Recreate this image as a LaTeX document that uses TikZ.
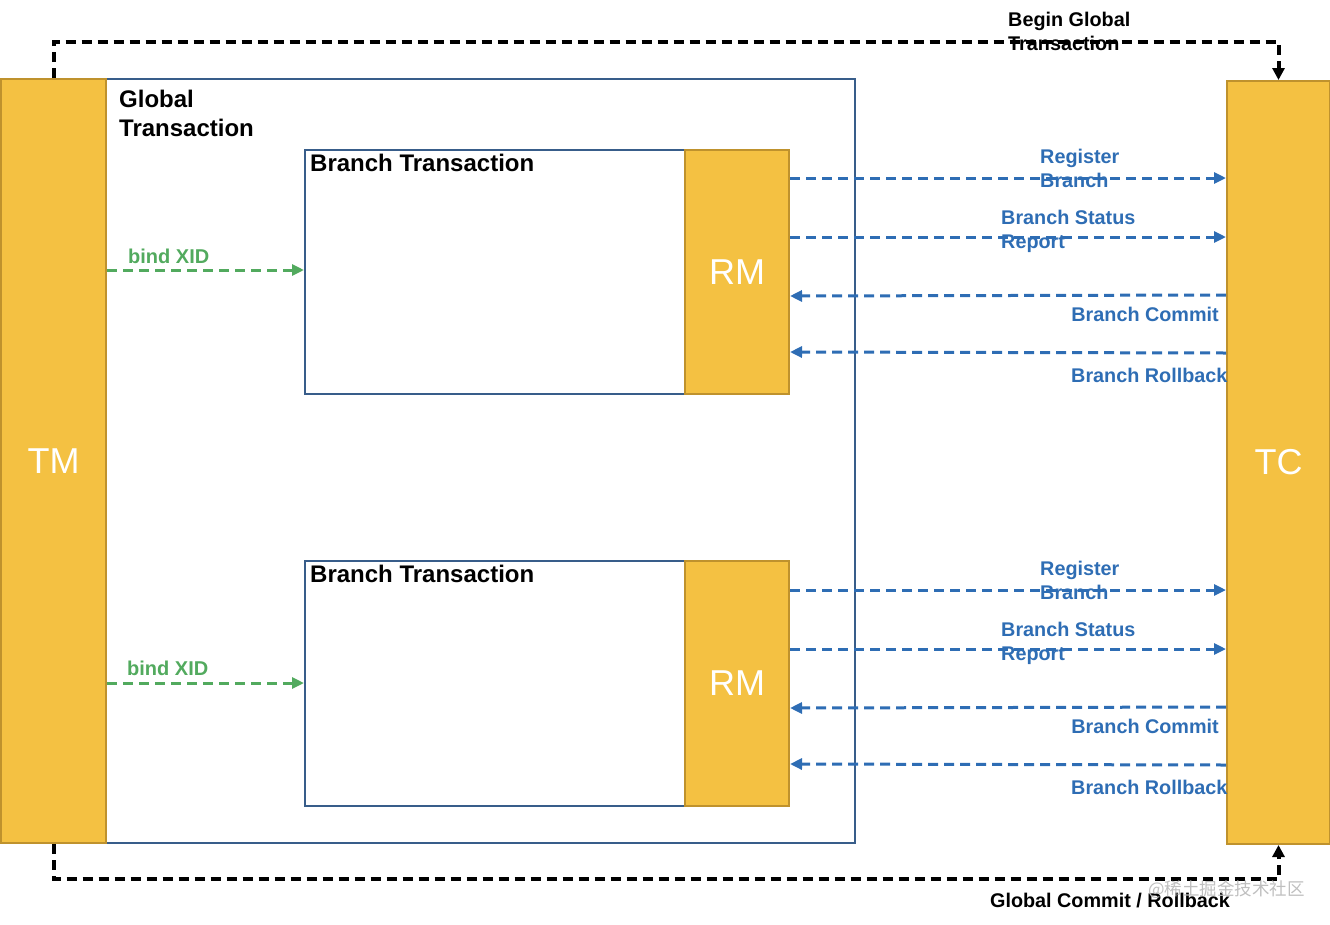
\documentclass[tikz,border=0pt]{standalone}
\usepackage{fontspec}
\setmainfont{Liberation Sans}
\newfontfamily\cjkfont{Noto Sans CJK SC}
\usetikzlibrary{arrows.meta}
\definecolor{orangefill}{RGB}{244,193,66}
\definecolor{orangedraw}{RGB}{191,146,45}
\definecolor{boxblue}{RGB}{56,93,138}
\definecolor{flowblue}{RGB}{46,109,180}
\definecolor{flowgreen}{RGB}{82,170,94}
\tikzset{
  actor/.style={draw=orangedraw, fill=orangefill, line width=2pt, text=white, inner sep=0pt,
    font=\fontsize{36}{40}\selectfont},
  txbox/.style={draw=boxblue, line width=2pt, inner sep=0pt},
  msg/.style={flowblue, line width=3pt, dash pattern=on 10pt off 6pt,
    -{Triangle[length=12pt,width=11pt]}},
  bind/.style={flowgreen, line width=3pt, dash pattern=on 10pt off 6pt,
    -{Triangle[length=12pt,width=11pt]}},
  ctrl/.style={black, line width=4pt, dash pattern=on 10pt off 6pt,
    -{Triangle[length=12pt,width=12pt]}},
  msglabel/.style={text=flowblue, inner sep=0pt, align=left,
    font=\fontsize{19.8}{24}\selectfont\bfseries},
  biglabel/.style={inner sep=0pt, align=left, font=\fontsize{24}{29}\selectfont\bfseries}
}
\begin{document}
\begin{tikzpicture}[x=1pt,y=-1pt]
\useasboundingbox (0,0) rectangle (1330,924);
\node[txbox, anchor=north west, minimum width=749pt, minimum height=764pt] (global) at (105,78) {};
\node[actor, anchor=north west, minimum width=105pt, minimum height=764pt] (tm) at (0,78) {TM};
\node[actor, anchor=north west, minimum width=103pt, minimum height=763pt] (tc) at (1226,80) {TC};
\node[biglabel, anchor=north west] (globallabel) at (119,90) {Global\\Transaction};

\node[txbox, anchor=north west, minimum width=380pt, minimum height=244pt] (bt1) at (304,149) {};
\node[actor, anchor=north west, minimum width=104pt, minimum height=244pt] (rm1) at (684,149) {RM};
\node[biglabel, anchor=base west] (btlabel1) at (310,171) {Branch Transaction};
\node[txbox, anchor=north west, minimum width=380pt, minimum height=245pt] (bt2) at (304,560) {};
\node[actor, anchor=north west, minimum width=104pt, minimum height=245pt] (rm2) at (684,560) {RM};
\node[biglabel, anchor=base west] (btlabel2) at (310,582) {Branch Transaction};

\draw[ctrl] (tm.north) -- (tm.north |- 0,42) -| (tc.north);
\draw[ctrl] (tm.south) -- (tm.south |- 0,879) -| (tc.south);

\draw[bind] (tm.east |- 0,270) -- (bt1.west |- 0,270);
\draw[bind] (tm.east |- 0,683) -- (bt2.west |- 0,683);

\draw[msg] (rm1.east |- 0,178) -- (tc.west |- 0,178);
\draw[msg] (rm1.east |- 0,237) -- (tc.west |- 0,237);
\draw[msg] (tc.west |- 0,295) -- (rm1.east |- 0,296);
\draw[msg] (tc.west |- 0,353) -- (rm1.east |- 0,352);
\draw[msg] (rm2.east |- 0,590) -- (tc.west |- 0,590);
\draw[msg] (rm2.east |- 0,649) -- (tc.west |- 0,649);
\draw[msg] (tc.west |- 0,707) -- (rm2.east |- 0,708);
\draw[msg] (tc.west |- 0,765) -- (rm2.east |- 0,764);

\node[text=flowgreen, inner sep=0pt, anchor=base west, font=\fontsize{20}{24}\selectfont\bfseries] (bind1) at (128,263) {bind XID};
\node[text=flowgreen, inner sep=0pt, anchor=base west, font=\fontsize{20}{24}\selectfont\bfseries] (bind2) at (127,675) {bind XID};

\node[msglabel, anchor=north west] (reg1) at (1040,149) {Register\\Branch};
\node[msglabel, anchor=north west] (stat1) at (1001,210) {Branch Status\\Report};
\node[msglabel, anchor=base east] (commit1) at (1219,321) {Branch Commit};
\node[msglabel, anchor=base west] (roll1) at (1071,382) {Branch Rollback};
\node[msglabel, anchor=north west] (reg2) at (1040,561) {Register\\Branch};
\node[msglabel, anchor=north west] (stat2) at (1001,622) {Branch Status\\Report};
\node[msglabel, anchor=base east] (commit2) at (1219,733) {Branch Commit};
\node[msglabel, anchor=base west] (roll2) at (1071,794) {Branch Rollback};

\node[msglabel, text=black, anchor=north west] (begin) at (1008,12) {Begin Global\\Transaction};
\node[msglabel, text=black, anchor=base] (finish) at (1110,907) {Global Commit / Rollback};
\node[inner sep=0pt, anchor=base west, text=black!25, font=\cjkfont\fontsize{17.5}{20}\selectfont] (mark) at (1148,895) {@稀土掘金技术社区};
\end{tikzpicture}
\end{document}
